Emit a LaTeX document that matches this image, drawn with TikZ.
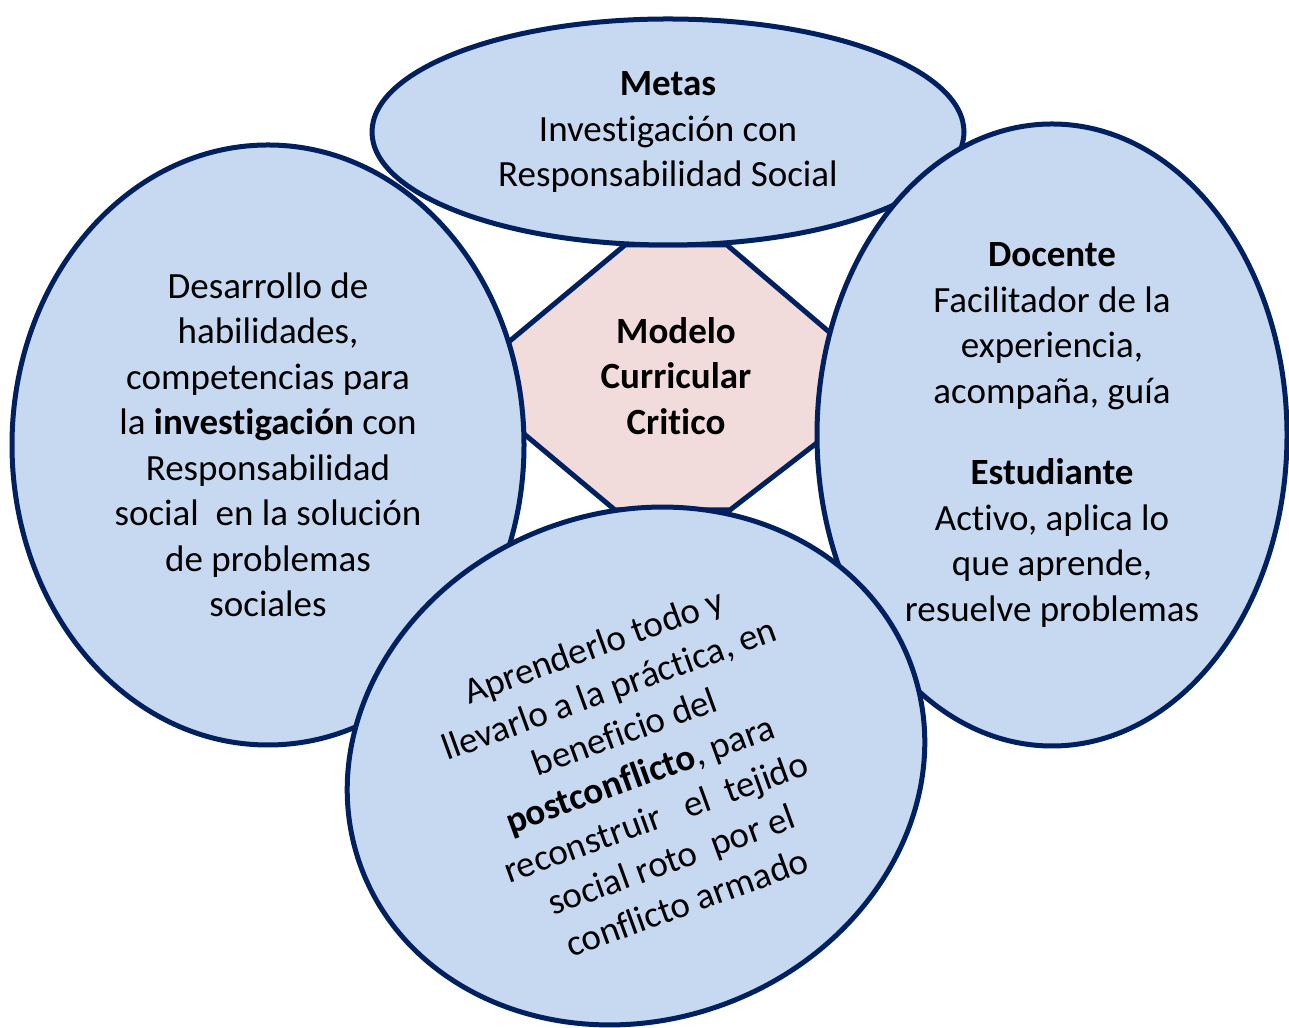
\documentclass[tikz,border=0pt]{standalone}
\usepackage{fontspec}
\setmainfont{Carlito}[Ligatures=NoCommon]
\usepackage{tikz}
\usetikzlibrary{shapes.geometric}
\definecolor{burbuja}{RGB}{198,217,240}
\definecolor{borde}{RGB}{0,32,96}
\definecolor{rosa}{RGB}{242,220,219}
\newcommand{\grosor}{5pt}
\newcommand{\letra}{\fontsize{37}{45.5}\selectfont}

\begin{document}
\begin{tikzpicture}[x=1pt,y=1pt,
    bubble/.style={ellipse, draw=borde, fill=burbuja, line width=\grosor, inner sep=0pt, align=center, font=\letra}]
            %\draw[help lines] (0,0) grid[step=100] (1289,1027);
            \useasboundingbox (0,0) rectangle (1289,1027);
            \draw[draw=borde, fill=rosa, line width=\grosor] (625,782) -- (727,782) -- (835,690) -- (840,602) -- (730,517) -- (615,517) -- (505,609) -- (505,682) -- cycle;
            \node[font=\letra\bfseries, align=center] (modelo) at (676,651) {Modelo\\Curricular\\Critico};
            \node[bubble, minimum width=592, minimum height=226] (metas) at (668,895) {\textbf{Metas}\\Investigación con\\Responsabilidad Social};
            \node[bubble, minimum width=512, minimum height=600] (desarrollo) at (268,582) {Desarrollo de\\habilidades,\\competencias para\\la \textbf{investigación} con\\Responsabilidad\\social\ \ en la solución\\de problemas\\sociales};
            \node[bubble, minimum width=470, minimum height=622] (roles) at (1052,592) {\textbf{Docente}\\Facilitador de la\\experiencia,\\acompaña, guía\\[36pt]\textbf{Estudiante}\\Activo, aplica lo\\que aprende,\\resuelve problemas};
            \node[bubble, rotate=20, minimum width=586, minimum height=508] (practica) at (636,261) {};
            \node[rotate=20, align=center, font=\letra] (aprender) at (640,253) {Aprenderlo todo y\\llevarlo a la práctica, en\\beneficio del\\\textbf{postconflicto}, para\\reconstruir\ \ \ el\ \ tejido\\social roto\ \ por el\\conflicto armado};
        \end{tikzpicture}
\end{document}
